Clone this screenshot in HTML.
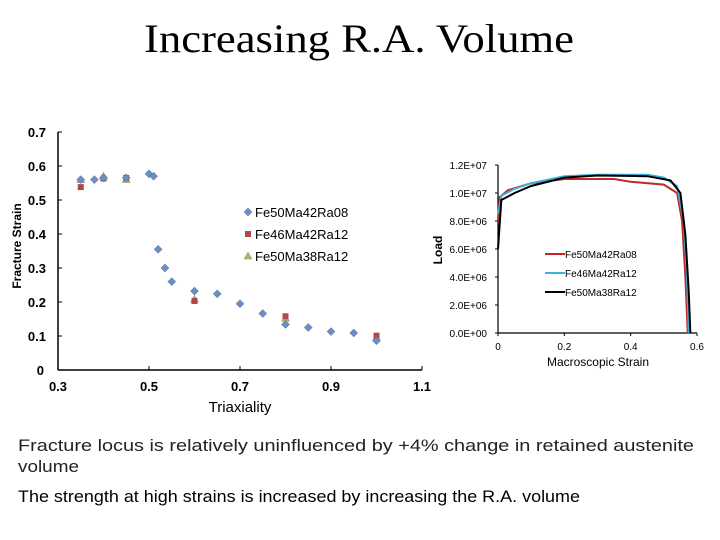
<!DOCTYPE html>
<html><head><meta charset="utf-8"><style>
html,body{margin:0;padding:0;background:#fff;}
svg{display:block;font-family:"Liberation Sans",sans-serif;}
</style></head><body>
<svg id="s" width="720" height="540" viewBox="0 0 720 540" xmlns="http://www.w3.org/2000/svg">
<text x="359" y="52" text-anchor="middle" font-family="Liberation Serif, serif" font-size="40" textLength="430" lengthAdjust="spacingAndGlyphs">Increasing R.A. Volume</text>
<g id="left"></g>
<g id="right"></g>
<text x="18" y="451" font-size="17" fill="#222" textLength="676" lengthAdjust="spacingAndGlyphs">Fracture locus is relatively uninfluenced by +4% change in retained austenite</text>
<text x="18" y="472" font-size="17" fill="#222" textLength="61" lengthAdjust="spacingAndGlyphs">volume</text>
<text x="18" y="502" font-size="17" fill="#000" textLength="562" lengthAdjust="spacingAndGlyphs">The strength at high strains is increased by increasing the R.A. volume</text>
</svg>
<script>
const NS="http://www.w3.org/2000/svg";
// ---- Left chart data
const seriesNames=["Fe50Ma42Ra08","Fe46Ma42Ra12","Fe50Ma38Ra12"];
const s1x=[0.35,0.38,0.40,0.45,0.50,0.51,0.52,0.535,0.55,0.60,0.65,0.70,0.75,0.80,0.85,0.90,0.95,1.00];
const s1y=[0.56,0.56,0.565,0.565,0.577,0.57,0.355,0.30,0.26,0.232,0.224,0.195,0.166,0.134,0.125,0.113,0.109,0.086];
const s2x=[0.35,0.40,0.45,0.60,0.80,1.00];
const s2y=[0.538,0.563,0.565,0.203,0.158,0.101];
const s3x=[0.35,0.40,0.45,0.60,0.80,1.00];
const s3y=[0.56,0.57,0.56,0.208,0.152,0.095];
const lxTicks=[0.3,0.5,0.7,0.9,1.1];
const lxTickLabels=["0.3","0.5","0.7","0.9","1.1"];
const lyTicks=[0,0.1,0.2,0.3,0.4,0.5,0.6,0.7];
const lyTickLabels=["0","0.1","0.2","0.3","0.4","0.5","0.6","0.7"];
// ---- Right chart data
const rStrainRed=[0,0.005,0.03,0.1,0.2,0.35,0.4,0.5,0.54,0.555,0.565,0.572];
const rLoadRed=[8.0e6,9.7e6,1.02e7,1.07e7,1.1e7,1.1e7,1.08e7,1.06e7,1.0e7,8.0e6,4.0e6,0];
const rStrainCyan=[0,0.01,0.05,0.1,0.2,0.3,0.45,0.5,0.54,0.56,0.57,0.575];
const rLoadCyan=[8.5e6,9.8e6,1.03e7,1.07e7,1.12e7,1.13e7,1.13e7,1.11e7,1.05e7,8.0e6,4.0e6,0];
const rStrainBlack=[0,0.01,0.05,0.1,0.2,0.3,0.45,0.52,0.55,0.565,0.575,0.58];
const rLoadBlack=[6.0e6,9.5e6,1.0e7,1.05e7,1.11e7,1.125e7,1.12e7,1.09e7,1.0e7,7.0e6,3.0e6,0];
const rxTicks=[0,0.2,0.4,0.6];
const rxTickLabels=["0","0.2","0.4","0.6"];
const ryTicks=[0,2e6,4e6,6e6,8e6,1e7,1.2e7];
const ryTickLabels=["0.0E+00","2.0E+06","4.0E+06","6.0E+06","8.0E+06","1.0E+07","1.2E+07"];

function mk(tag,attrs,parent,text){const e=document.createElementNS(NS,tag);for(const k in attrs)e.setAttribute(k,attrs[k]);if(text!==undefined)e.textContent=text;parent.appendChild(e);return e;}

// Left axes
const L=document.getElementById('left');
const lx=v=>58+(v-0.3)/(1.1-0.3)*(422-58);
const ly=v=>370-v/0.7*(370-132);
let a=mk('line',{x1:58,y1:132,x2:58,y2:370,stroke:'#000','stroke-width':1.5},L);

a=mk('line',{x1:58,y1:370,x2:422,y2:370,stroke:'#000','stroke-width':1.5},L);

lyTicks.forEach((v,i)=>{
  mk('line',{x1:58,y1:ly(v),x2:62,y2:ly(v),stroke:'#000'},L);
  const t=mk('text',{x:i===0?44:46,y:ly(v)+5,'text-anchor':'end','font-size':13,'font-weight':'bold'},L,lyTickLabels[i]);
  
});
lxTicks.forEach((v,i)=>{
  mk('line',{x1:lx(v),y1:370,x2:lx(v),y2:366,stroke:'#000'},L);
  const t=mk('text',{x:lx(v),y:391,'text-anchor':'middle','font-size':13,'font-weight':'bold'},L,lxTickLabels[i]);
  
});
let t=mk('text',{x:240,y:412,'text-anchor':'middle','font-size':15},L,'Triaxiality');

t=mk('text',{x:0,y:0,'text-anchor':'middle','font-size':12,'font-weight':'bold',transform:'translate(21,246) rotate(-90)'},L,'Fracture Strain');


function diamond(x,y,g){const p=mk('polygon',{points:`${x},${y-4} ${x+4},${y} ${x},${y+4} ${x-4},${y}`,fill:'#6a8fc0',stroke:'#4a6fa0','stroke-width':0.5},g);return p;}
function square(x,y,g){return mk('rect',{x:x-3,y:y-3,width:6,height:6,fill:'#b04848'},g);}
function tri(x,y,g){return mk('polygon',{points:`${x},${y-4} ${x+4},${y+3} ${x-4},${y+3}`,fill:'#b8b070',stroke:'#8a9a60','stroke-width':0.5},g);}
s3x.forEach((v,i)=>{const m=tri(lx(v),ly(s3y[i]),L);});
s2x.forEach((v,i)=>{const m=square(lx(v),ly(s2y[i]),L);});
s1x.forEach((v,i)=>{const m=diamond(lx(v),ly(s1y[i]),L);});
const legFns=[diamond,square,tri];
seriesNames.forEach((n,i)=>{
  const y=212+i*22;
  const m=legFns[i](248,y,L);
  
  const lt=mk('text',{x:255,y:y+5,'font-size':13},L,n);
  
});

// Right axes
const R=document.getElementById('right');
const rx=v=>498+v/0.6*(697-498);
const ry=v=>333-v/1.2e7*(333-165);
a=mk('line',{x1:498,y1:165,x2:498,y2:333,stroke:'#000','stroke-width':1.2},R);

a=mk('line',{x1:498,y1:333,x2:697,y2:333,stroke:'#000','stroke-width':1.2},R);

ryTicks.forEach((v,i)=>{
  mk('line',{x1:495,y1:ry(v),x2:498,y2:ry(v),stroke:'#000'},R);
  const tt=mk('text',{x:487,y:ry(v)+4,'text-anchor':'end','font-size':10},R,ryTickLabels[i]);
  
});
rxTicks.forEach((v,i)=>{
  mk('line',{x1:rx(v),y1:333,x2:rx(v),y2:336,stroke:'#000'},R);
  const tt=mk('text',{x:rx(v),y:350,'text-anchor':'middle','font-size':10},R,rxTickLabels[i]);
  
});
t=mk('text',{x:598,y:366,'text-anchor':'middle','font-size':12},R,'Macroscopic Strain');

t=mk('text',{x:0,y:0,'text-anchor':'middle','font-size':12,'font-weight':'bold',transform:'translate(442,250) rotate(-90)'},R,'Load');

const curves=[[rStrainRed,rLoadRed,'#c0282a','red'],[rStrainCyan,rLoadCyan,'#3cb0d8','cyan'],[rStrainBlack,rLoadBlack,'#000','black']];
curves.forEach(c=>{
  const pts=c[0].map((v,i)=>rx(v)+','+ry(c[1][i])).join(' ');
  const pl=mk('polyline',{points:pts,fill:'none',stroke:c[2],'stroke-width':2},R);
  
});
seriesNames.forEach((n,i)=>{
  const y=254+i*19;
  const ll=mk('line',{x1:545,y1:y,x2:565,y2:y,stroke:curves[i][2],'stroke-width':2},R);
  
  const lt=mk('text',{x:565,y:y+4,'font-size':10},R,n);
  
});
</script>
</body></html>
